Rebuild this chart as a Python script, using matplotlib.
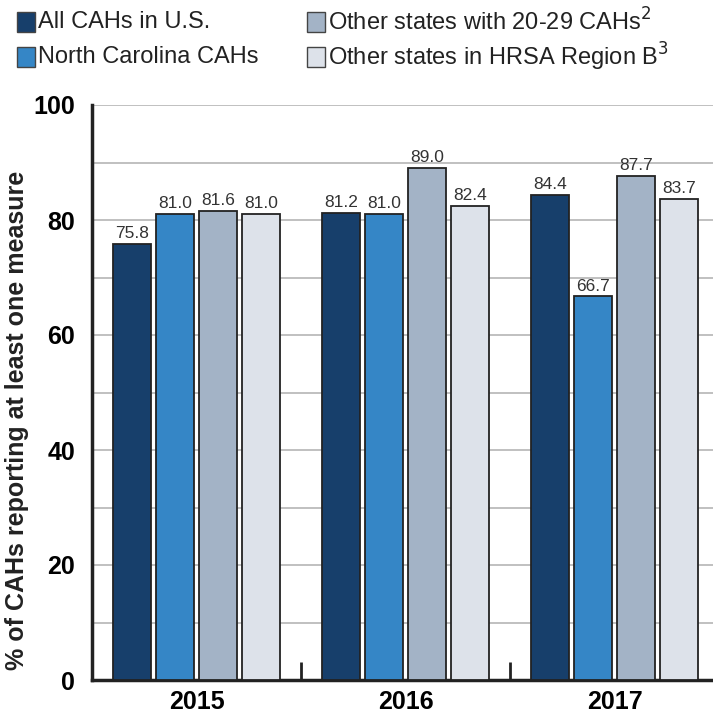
import matplotlib
matplotlib.use("Agg")
import matplotlib.pyplot as plt
from matplotlib.patches import Rectangle
import numpy as np
from matplotlib import font_manager

names = {f.name for f in font_manager.fontManager.ttflist}
fam = ['Liberation Sans Narrow', 'DejaVu Sans'] if 'Liberation Sans Narrow' in names else ['Liberation Sans', 'DejaVu Sans']
plt.rcParams['font.family'] = fam

years = ['2015', '2016', '2017']
series_names = ['All CAHs in U.S.', 'North Carolina CAHs',
                'Other states with 20-29 CAHs$^2$', 'Other states in HRSA Region B$^3$']
all_us = [75.8, 81.2, 84.4]
north_carolina = [81.0, 81.0, 66.7]
other_20_29 = [81.6, 89.0, 87.7]
region_b = [81.0, 82.4, 83.7]
series = [all_us, north_carolina, other_20_29, region_b]
colors = ['#173f6b', '#3586c6', '#a3b3c6', '#dde2ea']

fig = plt.figure(figsize=(7.13, 7.15), dpi=100)
W, H = 713, 715
ax = fig.add_axes([92 / W, 1 - 680 / H, (713 - 92) / W, (680 - 105) / H])

x = np.arange(len(years))
step = 0.206
width = 0.182
for i, (vals, c) in enumerate(zip(series, colors)):
    pos = x + (i - 1.5) * step
    ax.bar(pos, vals, width=width, color=c, edgecolor='#222222', linewidth=1.3, zorder=3)
    for p, v in zip(pos, vals):
        ax.text(p, v + 0.5, f'{v:.1f}', ha='center', va='bottom', fontsize=12.5,
                color='#333333', zorder=4)

ax.set_xlim(-0.502, 2.47)
ax.set_ylim(0, 100)
ax.set_yticks(range(0, 101, 20))
ax.set_yticks(range(0, 101, 10), minor=True)
ax.yaxis.grid(True, which='both', color='#b5b5b5', linewidth=1.2, zorder=0)
ax.tick_params(axis='y', which='both', length=0, labelsize=18, pad=12)
for lab in ax.get_yticklabels():
    lab.set_fontweight('bold')
ax.set_xticks(x)
ax.set_xticklabels(years, fontsize=18, fontweight='bold')
ax.tick_params(axis='x', which='major', length=0, pad=7)
ax.set_xticks([0.5, 1.5], minor=True)
ax.tick_params(axis='x', which='minor', direction='in', length=13, width=2, color='#222222')

for s in ['top', 'right']:
    ax.spines[s].set_visible(False)
ax.spines['left'].set_linewidth(2.5)
ax.spines['bottom'].set_linewidth(2.5)
ax.spines['left'].set_color('#222222')
ax.spines['bottom'].set_color('#222222')

fig.text(17 / W, 1 - 420 / H, '% of CAHs reporting at least one measure', rotation=90,
         ha='center', va='center', fontsize=18, fontweight='bold', color='#222222')

# legend
leg_pos = [(17, 22), (17, 57), (307, 22), (307, 57)]
for (lx, ly), name, c in zip(leg_pos, series_names, colors):
    fig.patches.append(Rectangle((lx / W, 1 - (ly + 10) / H), 18 / W, 20 / H,
                                 transform=fig.transFigure, facecolor=c,
                                 edgecolor='#444444', linewidth=1.0))
    fig.text((lx + 21) / W, 1 - ly / H, name, ha='left', va='center', fontsize=17,
             color='#222222')

fig.savefig('out.png', dpi=100)
